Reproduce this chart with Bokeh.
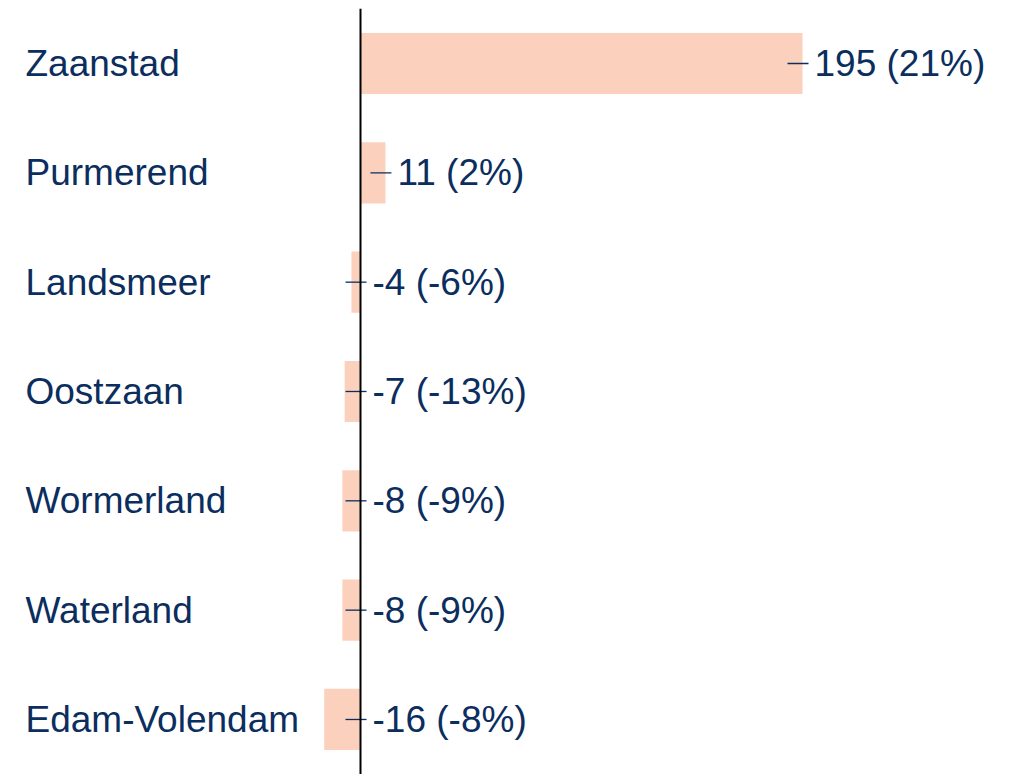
from bokeh.plotting import figure
from bokeh.models import ColumnDataSource, Range1d
from bokeh.core.properties import value
from bokeh.embed import file_html
from bokeh.resources import INLINE

categories = ["Zaanstad", "Purmerend", "Landsmeer", "Oostzaan", "Wormerland", "Waterland", "Edam-Volendam"]
values = [195, 11, -4, -7, -8, -8, -16]
percents = [21, 2, -6, -13, -9, -9, -8]

W, H = 1010, 774
PX_PER_UNIT = 442 / 195.0
X0_PX = 360
x_start = -X0_PX / PX_PER_UNIT
x_end = (W - X0_PX) / PX_PER_UNIT
ROW_PX = 109.33
Y0_PX = 63
y_top = -Y0_PX / ROW_PX
y_bottom = (H - Y0_PX) / ROW_PX

NAVY = "#0b2e5e"
BAR = "#fbd0bd"
FONT = "Liberation Sans"

ys = list(range(len(categories)))
anchors = [max(v, 0) for v in values]
labels = [f"{v} ({p}%)" for v, p in zip(values, percents)]
dash_l = [a - 15 / PX_PER_UNIT for a in anchors]
dash_r = [a + 6 / PX_PER_UNIT for a in anchors]

src = ColumnDataSource(dict(y=ys, v=values, cat=categories, anchor=anchors,
                            label=labels, dl=dash_l, dr=dash_r,
                            xs=[x_start] * len(ys)))

p = figure(width=W, height=H, output_backend="svg", toolbar_location=None,
           x_range=Range1d(x_start, x_end), y_range=Range1d(y_bottom, y_top),
           min_border=0, outline_line_color=None, background_fill_color="white",
           border_fill_color="white")
p.axis.visible = False
p.grid.visible = False

p.hbar(y="y", left=0, right="v", height=0.56, color=BAR, line_color=None, source=src)
p.segment(x0="dl", x1="dr", y0="y", y1="y", line_color=NAVY, line_width=1.3, source=src)
p.segment(x0=[0], x1=[0], y0=[-0.5], y1=[len(categories) - 0.5], line_color="black", line_width=2)

p.text(x="anchor", y="y", text="label", x_offset=12, text_baseline="middle", text_align="left",
       text_font=value(FONT), text_font_size="37px", text_color=NAVY, source=src)
p.text(x="xs", y="y", text="cat", x_offset=25, text_baseline="middle", text_align="left",
       text_font=value(FONT), text_font_size="37px", text_color=NAVY, source=src)

open("out.html", "w").write(file_html(p, INLINE))
